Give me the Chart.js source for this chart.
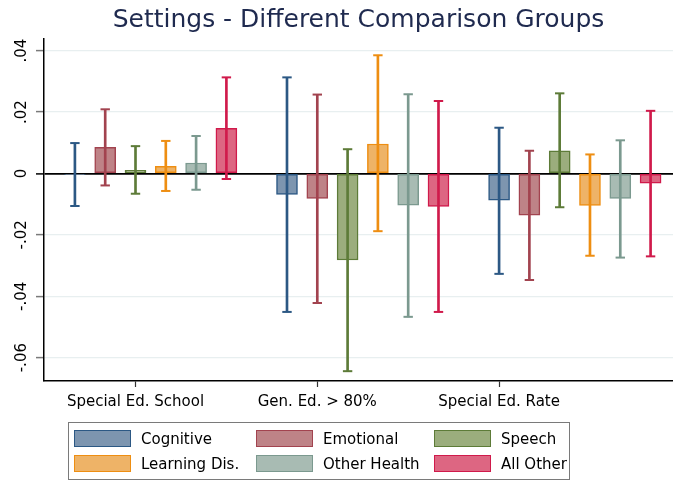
<!DOCTYPE html>
<html>
<head>
<meta charset="utf-8">
<script src="https://cdn.jsdelivr.net/npm/chart.js@4.4.0/dist/chart.umd.min.js"></script>
<style>
  html, body { margin: 0; padding: 0; background: #ffffff; }
  #wrap { position: relative; width: 673px; height: 482px; }
  #legend { position: absolute; left: 68px; top: 422px; width: 502px; height: 58px; box-sizing: border-box;
            border: 1px solid #7a7a7a; font-family: 'DejaVu Sans', sans-serif; font-size: 15px; color: #000; }
  .item { position: absolute; display: flex; align-items: center; height: 17px; white-space: nowrap; }
  .sw { width: 57px; height: 17px; box-sizing: border-box; border: 1.5px solid; margin-right: 10px; }
</style>
</head>
<body>
<div id="wrap">
  <canvas id="c" width="673" height="482"></canvas>
  <div id="legend"></div>
</div>
<script>
// ---- data ----
const categories = ['Special Ed. School', 'Gen. Ed. > 80%', 'Special Ed. Rate'];
const seriesNames = ['Cognitive', 'Emotional', 'Speech', 'Learning Dis.', 'Other Health', 'All Other'];
const yTickValues = [-0.06, -0.04, -0.02, 0, 0.02, 0.04];

// point estimates per series (one value per category)
const cognitive   = [-0.0003, -0.0068, -0.0087];
const emotional   = [ 0.0085, -0.0081, -0.0136];
const speech      = [ 0.0010, -0.0282,  0.0074];
const learningDis = [ 0.0023,  0.0096, -0.0104];
const otherHealth = [ 0.0034, -0.0103, -0.0081];
const allOther    = [ 0.0147, -0.0107, -0.0032];

// lower CI bounds
const cognitiveLo   = [-0.0106, -0.0451, -0.0327];
const emotionalLo   = [-0.0039, -0.0422, -0.0347];
const speechLo      = [-0.0066, -0.0644, -0.0110];
const learningDisLo = [-0.0057, -0.0188, -0.0268];
const otherHealthLo = [-0.0053, -0.0467, -0.0274];
const allOtherLo    = [-0.0018, -0.0451, -0.0270];

// upper CI bounds
const cognitiveHi   = [0.0099, 0.0313, 0.0149];
const emotionalHi   = [0.0209, 0.0257, 0.0074];
const speechHi      = [0.0089, 0.0079, 0.0261];
const learningDisHi = [0.0106, 0.0385, 0.0062];
const otherHealthHi = [0.0122, 0.0258, 0.0108];
const allOtherHi    = [0.0313, 0.0236, 0.0204];

// ---- styling ----
const estimates = [cognitive, emotional, speech, learningDis, otherHealth, allOther];
const lows  = [cognitiveLo, emotionalLo, speechLo, learningDisLo, otherHealthLo, allOtherLo];
const highs = [cognitiveHi, emotionalHi, speechHi, learningDisHi, otherHealthHi, allOtherHi];
const fills   = ['#7d95af', '#be8387', '#9bad7d', '#eeb367', '#a8bbb3', '#dd6682'];
const borders = ['#2c5884', '#a2434f', '#5d7b38', '#ee8e12', '#7b998f', '#d01a4b'];
const FONT = "'DejaVu Sans', sans-serif";
const slot = (g, s) => g * 7 + s + 1;   // layout position of a bar on the x axis
const catTickPos = [3, 9, 15];           // where the category labels sit (as in the original)

const datasets = [];
seriesNames.forEach((name, s) => {
  datasets.push({
    type: 'bar', label: name, order: 3,
    data: categories.map((c, g) => ({ x: slot(g, s), y: estimates[s][g] })),
    backgroundColor: fills[s], borderColor: borders[s], borderWidth: 1.5,
    borderSkipped: false, barThickness: 21, grouped: false
  });
  datasets.push({
    type: 'bar', label: name + ' CI', order: 2,
    data: categories.map((c, g) => ({ x: slot(g, s), y: [lows[s][g], highs[s][g]] })),
    backgroundColor: borders[s], borderWidth: 0, barThickness: 2, grouped: false
  });
  datasets.push({
    type: 'scatter', label: name + ' caps', order: 1, showLine: false,
    data: categories.flatMap((c, g) => [{ x: slot(g, s), y: lows[s][g] }, { x: slot(g, s), y: highs[s][g] }]),
    pointStyle: 'line', radius: 4.7, hoverRadius: 4.7, borderColor: borders[s], borderWidth: 2
  });
});

const fmt = v => v === 0 ? '0' : (v < 0 ? '-' : '') + Math.abs(v).toFixed(2).replace(/^0/, '');

const yLabels = {
  id: 'yLabels',
  afterDraw(chart) {
    const y = chart.scales.y, ctx = chart.ctx;
    ctx.save();
    ctx.font = '15px ' + FONT;
    ctx.fillStyle = '#000';
    ctx.textAlign = 'center';
    ctx.textBaseline = 'alphabetic';
    y.ticks.forEach(t => {
      const py = y.getPixelForValue(t.value);
      ctx.save();
      ctx.translate(26, py);
      ctx.rotate(-Math.PI / 2);
      ctx.fillText(fmt(t.value), 0, 0);
      ctx.restore();
    });
    ctx.restore();
  }
};

new Chart(document.getElementById('c'), {
  type: 'bar',
  data: { datasets },
  options: {
    responsive: false, animation: false, devicePixelRatio: 1,
    layout: { padding: 0, autoPadding: false },
    plugins: {
      legend: { display: false },
      tooltip: { enabled: false },
      title: {
        display: true, text: 'Settings - Different Comparison Groups', fullSize: false,
        color: '#1f2a4f', font: { family: FONT, size: 25, weight: 'normal' },
        padding: { top: 5, bottom: 4 }
      }
    },
    scales: {
      x: {
        type: 'linear', min: -0.02, max: 20.74, offset: false,
        afterBuildTicks: s => { s.ticks = catTickPos.map(v => ({ value: v })); },
        afterFit: s => { s.height = 101; s.paddingLeft = 0; s.paddingRight = 0; },
        ticks: {
          autoSkip: false, maxRotation: 0, minRotation: 0, padding: 6, color: '#000',
          font: { family: FONT, size: 15 },
          callback: (v, i) => categories[i]
        },
        grid: { offset: false, drawOnChartArea: false, drawTicks: true, tickLength: 6, tickColor: '#333', tickWidth: 1.2 },
        border: { color: '#000', width: 1.5 }
      },
      y: {
        type: 'linear', min: -0.0676, max: 0.0438,
        afterBuildTicks: s => { s.ticks = yTickValues.map(v => ({ value: v })); },
        afterFit: s => { s.width = 44; s.paddingTop = 0; s.paddingBottom = 0; },
        ticks: { display: false },
        grid: {
          drawTicks: true, tickLength: 8,
          color: c => (c.tick && c.tick.value === 0) ? '#000' : '#e8eff0',
          lineWidth: c => (c.tick && c.tick.value === 0) ? 1.8 : 1.2,
          tickColor: c => (c.tick && c.tick.value === 0) ? '#000' : '#7a7a7a',
          tickWidth: 1.5
        },
        border: { color: '#000', width: 1.5 }
      }
    }
  },
  plugins: [yLabels]
});

// legend built from the series
const legend = document.getElementById('legend');
const colLeft = [5, 187, 365], rowTop = [7, 32];
seriesNames.forEach((name, s) => {
  const item = document.createElement('div');
  item.className = 'item';
  item.style.left = colLeft[s % 3] + 'px';
  item.style.top = rowTop[Math.floor(s / 3)] + 'px';
  const sw = document.createElement('div');
  sw.className = 'sw';
  sw.style.background = fills[s];
  sw.style.borderColor = borders[s];
  const tx = document.createElement('span');
  tx.textContent = name;
  item.appendChild(sw); item.appendChild(tx);
  legend.appendChild(item);
});
</script>
</body>
</html>
